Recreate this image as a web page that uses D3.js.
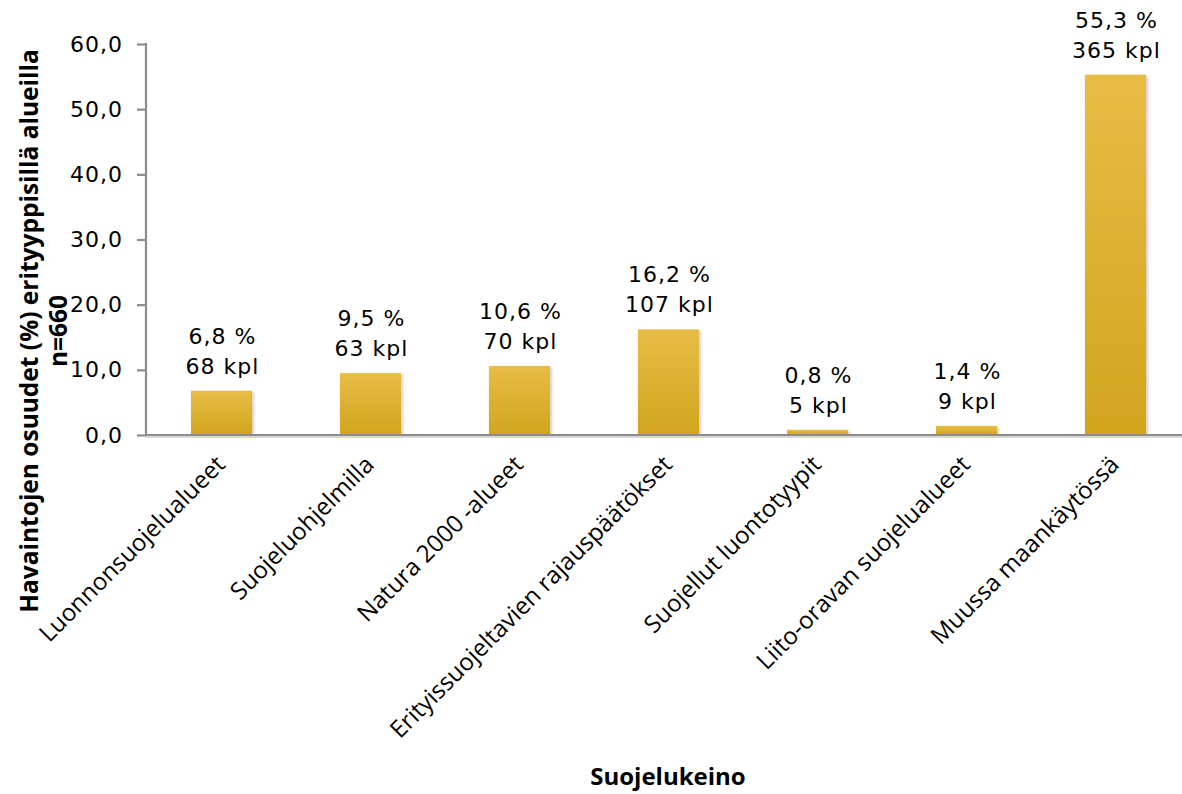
<!DOCTYPE html>
<html>
<head>
<meta charset="utf-8">
<script src="https://cdn.jsdelivr.net/npm/d3@7"></script>
<style>
  body { margin: 0; background: #fff; }
  svg { display: block; }
</style>
</head>
<body>
<svg id="chart" width="1182" height="794"></svg>
<script>
// data
var categories = ["Luonnonsuojelualueet", "Suojeluohjelmilla", "Natura 2000 -alueet",
    "Erityissuojeltavien rajauspäätökset", "Suojellut luontotyypit",
    "Liito-oravan suojelualueet", "Muussa maankäytössä"];
var percents = [6.8, 9.5, 10.6, 16.2, 0.8, 1.4, 55.3];
var counts = [68, 63, 70, 107, 5, 9, 365];
var yTicks = [0, 10, 20, 30, 40, 50, 60];

var svg = d3.select("#chart");
var plotLeft = 146, plotRight = 1190, plotTop = 44, plotBottom = 435;

var x = d3.scaleBand()
    .domain(categories)
    .range([plotLeft + 1, plotRight])
    .paddingInner(0.59)
    .paddingOuter(0.295);
var y = d3.scaleLinear().domain([0, 60]).range([plotBottom, plotTop]);

function fmt(v) {
    return v.toFixed(1).replace(".", ",");
}

// gradient + shadow for bars
var defs = svg.append("defs");
var grad = defs.append("linearGradient")
    .attr("id", "barGrad")
    .attr("x1", 0).attr("y1", 0).attr("x2", 0).attr("y2", 1);
grad.append("stop").attr("offset", "0%").attr("stop-color", "#E7BD45");
grad.append("stop").attr("offset", "100%").attr("stop-color", "#D1A51E");
var shadow = defs.append("filter").attr("id", "shadow")
    .attr("x", "-20%").attr("y", "-20%").attr("width", "140%").attr("height", "140%");
shadow.append("feDropShadow")
    .attr("dx", 1.5).attr("dy", 1.5).attr("stdDeviation", 1.5)
    .attr("flood-color", "#000").attr("flood-opacity", 0.25);

// y axis
var yAxis = d3.axisLeft(y)
    .tickValues(yTicks)
    .tickSize(9)
    .tickPadding(14)
    .tickFormat(fmt);
var gy = svg.append("g")
    .attr("transform", "translate(" + plotLeft + ",0)")
    .call(yAxis);
gy.selectAll("path, line").attr("stroke", "#8C8C8C").attr("stroke-width", 2.2);
gy.select("path").attr("d", "M0," + (plotTop - 1) + "V" + plotBottom);
gy.selectAll("text")
    .style("font-family", "'DejaVu Sans', sans-serif")
    .style("font-size", "22px")
    .style("letter-spacing", "1px")
    .attr("fill", "#000");

// bars
svg.selectAll("rect.bar")
    .data(categories)
    .enter().append("rect")
    .attr("class", "bar")
    .attr("x", function(d) { return x(d); })
    .attr("y", function(d, i) { return y(percents[i]); })
    .attr("width", x.bandwidth())
    .attr("height", function(d, i) { return y(0) - y(percents[i]); })
    .attr("fill", "url(#barGrad)")
    .attr("filter", "url(#shadow)");

// x axis line (no ticks)
svg.append("line")
    .attr("x1", plotLeft).attr("x2", 1182)
    .attr("y1", plotBottom + 2).attr("y2", plotBottom + 2)
    .attr("stroke", "#D8D8D8").attr("stroke-width", 2);
svg.append("line")
    .attr("x1", plotLeft - 1).attr("x2", 1182)
    .attr("y1", plotBottom).attr("y2", plotBottom)
    .attr("stroke", "#8C8C8C").attr("stroke-width", 2.2);

// value labels
var labels = svg.selectAll("text.val")
    .data(categories)
    .enter().append("text")
    .attr("class", "val")
    .attr("text-anchor", "middle")
    .style("font-family", "'DejaVu Sans', sans-serif")
    .style("font-size", "22px")
    .style("letter-spacing", "1px")
    .attr("fill", "#000");
labels.append("tspan")
    .attr("x", function(d) { return x(d) + x.bandwidth() / 2 + 1; })
    .attr("y", function(d, i) { return y(percents[i]) - 47; })
    .text(function(d, i) { return fmt(percents[i]) + " %"; });
labels.append("tspan")
    .attr("x", function(d) { return x(d) + x.bandwidth() / 2 + 1; })
    .attr("y", function(d, i) { return y(percents[i]) - 17; })
    .text(function(d, i) { return counts[i] + " kpl"; });

// category labels, rotated
svg.selectAll("text.cat")
    .data(categories)
    .enter().append("text")
    .attr("class", "cat")
    .attr("text-anchor", "end")
    .attr("transform", function(d) {
        return "translate(" + (x(d) + x.bandwidth() / 2 + 5) + "," + (plotBottom + 31) + ") rotate(-45)";
    })
    .style("font-family", "'Open Sans', sans-serif")
    .style("font-size", "24px")
    .attr("fill", "#000")
    .text(function(d) { return d; });

// axis titles
var yt = svg.append("text")
    .attr("transform", "translate(38,331) rotate(-90)")
    .attr("text-anchor", "middle")
    .style("font-family", "'Open Sans', sans-serif")
    .style("font-size", "24.5px")
    .style("font-weight", "bold")
    .attr("fill", "#000");
yt.append("tspan").attr("x", 0).attr("y", 0).text("Havaintojen osuudet (%) erityyppisillä alueilla");
yt.append("tspan").attr("x", 0).attr("y", 29).text("n=660");

svg.append("text")
    .attr("x", 668).attr("y", 785)
    .attr("text-anchor", "middle")
    .style("font-family", "'Open Sans', sans-serif")
    .style("font-size", "24px")
    .style("font-weight", "bold")
    .attr("fill", "#000")
    .text("Suojelukeino");
</script>
</body>
</html>
